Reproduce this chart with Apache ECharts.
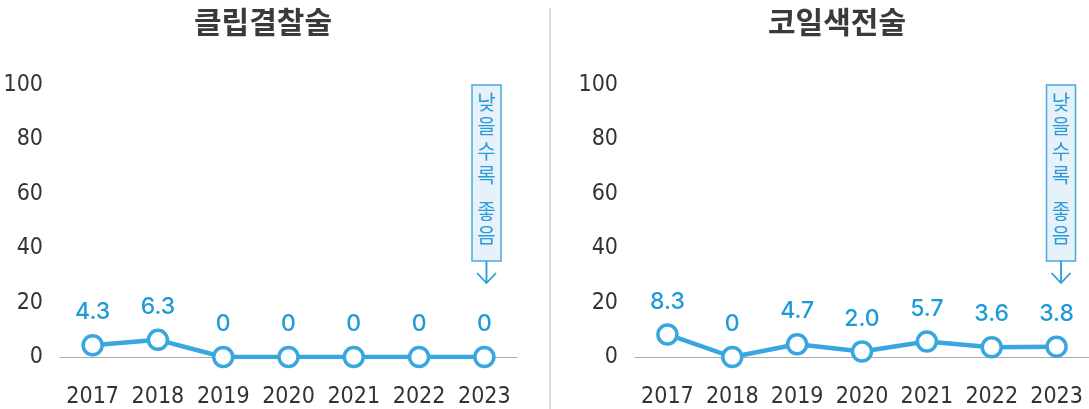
<!DOCTYPE html>
<html>
<head>
<meta charset="utf-8">
<script src="https://cdn.jsdelivr.net/npm/echarts@6/dist/echarts.min.js"></script>
<style>
  html, body { margin: 0; padding: 0; background: #fff; }
  #chart { width: 1089px; height: 409px; }
</style>
</head>
<body>
<div id="chart"></div>
<script>
// 데이터
var years = ["2017", "2018", "2019", "2020", "2021", "2022", "2023"];
var clipValues = [4.3, 6.3, 0, 0, 0, 0, 0];
var coilValues = [8.3, 0, 4.7, 2.0, 5.7, 3.6, 3.8];
var clipLabels = ["4.3", "6.3", "0", "0", "0", "0", "0"];
var coilLabels = ["8.3", "0", "4.7", "2.0", "5.7", "3.6", "3.8"];
var titles = ["클립결찰술", "코일색전술"];
var noteTop = "낮\n을\n수\n록";
var noteBottom = "좋\n음";

var numFont = "'DejaVu Sans Condensed', 'DejaVu Sans', sans-serif";
var krFont = "'Noto Sans CJK KR', sans-serif";
var blue = "#38a6df";
var labelBlue = "#1f9ad8";

function makeSeries(values, labels, idx) {
  return {
    type: "line",
    xAxisIndex: idx,
    yAxisIndex: idx,
    symbol: "circle",
    symbolSize: 19,
    lineStyle: { color: blue, width: 4.5 },
    itemStyle: { color: "#fff", borderColor: blue, borderWidth: 3.5 },
    label: {
      show: true,
      position: "top",
      distance: 10,
      color: labelBlue,
      fontFamily: "Inter, Roboto, sans-serif",
      fontWeight: 500,
      fontSize: 23,
      formatter: function (p) { return labels[p.dataIndex]; }
    },
    data: values,
    z: 3
  };
}

function noteText(cx, y, txt) {
  return { type: "text", x: cx, y: y,
    style: { text: txt, fill: "#2a9bd7", fontFamily: "Noto Sans CJK KR", fontSize: 20,
      lineHeight: 24.5, align: "center", verticalAlign: "top" } };
}

function note(cx) {
  return [
    { type: "rect", shape: { x: cx - 14.5, y: 85, width: 29, height: 176 },
      style: { fill: "#e7f1fa", stroke: "#48a9dd", lineWidth: 1.5 } },
    noteText(cx, 90, noteTop),
    noteText(cx, 199, noteBottom),
    { type: "line", shape: { x1: cx, y1: 261, x2: cx, y2: 283 },
      style: { stroke: "#2a9bd7", lineWidth: 1.8 } },
    { type: "polyline", shape: { points: [[cx - 9.5, 273], [cx, 283], [cx + 9.5, 273]] },
      style: { stroke: "#2a9bd7", lineWidth: 1.8, fill: null } }
  ];
}

var chart = echarts.init(document.getElementById("chart"));

var xAxisBase = {
  type: "category",
  data: years,
  boundaryGap: true,
  axisLine: { show: true, lineStyle: { color: "#aaa", width: 1 } },
  axisTick: { show: false },
  axisLabel: { color: "#333", fontFamily: numFont, fontSize: 23, margin: 29, interval: 0 }
};
var yAxisBase = {
  type: "value",
  min: 0,
  max: 100,
  interval: 20,
  axisLine: { show: false },
  axisTick: { show: false },
  splitLine: { show: false },
  axisLabel: { color: "#333", fontFamily: numFont, fontSize: 23, margin: 17 }
};

chart.setOption({
  animation: false,
  title: [
    { text: titles[0], left: 258, top: 2, textAlign: "center",
      textStyle: { color: "#3a3a3a", fontFamily: krFont, fontSize: 30, fontWeight: "bold" } },
    { text: titles[1], left: 832, top: 2, textAlign: "center",
      textStyle: { color: "#3a3a3a", fontFamily: krFont, fontSize: 30, fontWeight: "bold" } }
  ],
  grid: [
    { left: 60, top: 85, width: 457, height: 272 },
    { left: 635, top: 85, width: 456, height: 272 }
  ],
  xAxis: [
    Object.assign({ gridIndex: 0 }, xAxisBase),
    Object.assign({ gridIndex: 1 }, xAxisBase)
  ],
  yAxis: [
    Object.assign({ gridIndex: 0 }, yAxisBase),
    Object.assign({ gridIndex: 1 }, yAxisBase)
  ],
  series: [
    makeSeries(clipValues, clipLabels, 0),
    makeSeries(coilValues, coilLabels, 1)
  ],
  graphic: [
    { type: "line", shape: { x1: 550, y1: 8, x2: 550, y2: 409 },
      style: { stroke: "#bbb", lineWidth: 1 } }
  ].concat(note(486.5), note(1061))
});
</script>
</body>
</html>
